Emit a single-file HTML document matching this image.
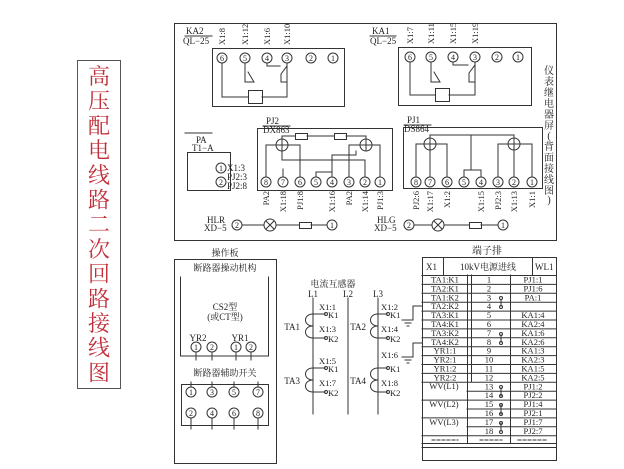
<!DOCTYPE html>
<html><head><meta charset="utf-8"><style>
html,body{margin:0;padding:0;background:#fff;}
svg{display:block;}
text{font-family:"Liberation Serif","Noto Serif CJK SC",serif;fill:#222;}
</style></head><body>
<svg width="624" height="469" viewBox="0 0 624 469" xmlns="http://www.w3.org/2000/svg" stroke-linecap="square">
<rect width="624" height="469" fill="#fff"/>
<!-- title -->
<rect x="77.5" y="60.5" width="43" height="328" fill="none" stroke="#555" stroke-width="1"/>
<g font-size="22" text-anchor="middle">
<text x="99" y="84" style="fill:#c0303a">高</text><text x="99" y="108.7" style="fill:#c0303a">压</text><text x="99" y="133.4" style="fill:#c0303a">配</text><text x="99" y="158.1" style="fill:#c0303a">电</text><text x="99" y="182.8" style="fill:#c0303a">线</text><text x="99" y="207.5" style="fill:#c0303a">路</text><text x="99" y="232.2" style="fill:#c0303a">二</text><text x="99" y="256.9" style="fill:#c0303a">次</text><text x="99" y="281.6" style="fill:#c0303a">回</text><text x="99" y="306.3" style="fill:#c0303a">路</text><text x="99" y="331" style="fill:#c0303a">接</text><text x="99" y="355.7" style="fill:#c0303a">线</text><text x="99" y="380.4" style="fill:#c0303a">图</text>
</g>

<g fill="none" stroke="#333" stroke-width="1">
<rect x="174.5" y="23.5" width="382" height="217"/>
<rect x="212.5" y="48.5" width="132" height="58"/>
<circle cx="222" cy="58" r="5"/><circle cx="245" cy="58" r="5"/><circle cx="267" cy="58" r="5"/><circle cx="287" cy="58" r="5"/><circle cx="311" cy="58" r="5"/><circle cx="333" cy="58" r="5"/>
<path d="M222 63 V97 H248 M262 97 H287 V63 M245 63 V82 H254 L248 72 M267 63 V66 H280 M287 66 L281 74 V82 H287"/>
<rect x="248.5" y="90.5" width="14" height="13"/>
<rect x="398.5" y="47.5" width="133" height="58"/>
<circle cx="410" cy="57" r="5"/><circle cx="431" cy="57" r="5"/><circle cx="453" cy="57" r="5"/><circle cx="475" cy="57" r="5"/><circle cx="497" cy="57" r="5"/><circle cx="518" cy="57" r="5"/>
<path d="M410 62 V95 H435 M449 95 H475 V62 M431 62 V82 H440 L434 72 M453 62 V65 H468 M475 65 L469 73 V82 H475"/>
<rect x="435.5" y="88.5" width="14" height="13"/>
<rect x="257.5" y="128.5" width="135" height="62"/>
<circle cx="266" cy="182" r="5"/><circle cx="283" cy="182" r="5"/><circle cx="300" cy="182" r="5"/><circle cx="316" cy="182" r="5"/><circle cx="332" cy="182" r="5"/><circle cx="349" cy="182" r="5"/><circle cx="365" cy="182" r="5"/><circle cx="380" cy="182" r="5"/>
<circle cx="282" cy="145" r="6"/><circle cx="366" cy="145" r="6"/>
<path d="M276 145 H288 M282 139 V151 M360 145 H372 M366 139 V151"/>
<path d="M266 177 V145 H276 M288 145 H300 V177 M282 139 V136 H295 M307 136 H334 M346 136 H366 V139 M282 151 V160 H365 V177 M372 145 H380 V177 M360 145 H349 V177 M332 177 V155 H356 V151 M316 177 V172 H332 M283 177 V169"/>
<rect x="295.5" y="133.5" width="12" height="6"/><rect x="334.5" y="133.5" width="12" height="6"/>
<rect x="187.5" y="152.5" width="43" height="38"/>
<circle cx="221" cy="168" r="5"/><circle cx="221" cy="182" r="5"/>
<rect x="403.5" y="127.5" width="139" height="61"/>
<circle cx="416" cy="182" r="5"/><circle cx="430" cy="182" r="5"/><circle cx="447" cy="182" r="5"/><circle cx="464" cy="182" r="5"/><circle cx="481" cy="182" r="5"/><circle cx="498" cy="182" r="5"/><circle cx="514" cy="182" r="5"/><circle cx="532" cy="182" r="5"/>
<circle cx="430" cy="144" r="6"/><circle cx="514" cy="144" r="6"/>
<path d="M424 144 H436 M430 138 V150 M508 144 H520 M514 138 V150"/>
<path d="M416 177 V144 H424 M436 144 H447 V177 M430 150 V177 M430 138 V135 H514 V138 M471 135 V170 M464 177 V170 H481 V177 M498 177 V144 H508 M520 144 H532 V177 M514 150 V177"/>
<circle cx="237" cy="225" r="5"/><circle cx="270" cy="225" r="6"/><rect x="299.5" y="222.5" width="12" height="6"/><circle cx="332" cy="225" r="5"/>
<path d="M242 225 H264 M276 225 H299 M311 225 H327 M266 221 L274 229 M274 221 L266 229"/>
<circle cx="409" cy="225" r="5"/><circle cx="438" cy="225" r="6"/><rect x="469.5" y="222.5" width="12" height="6"/><circle cx="503" cy="225" r="5"/>
<path d="M414 225 H432 M444 225 H469 M481 225 H498 M434 221 L442 229 M442 221 L434 229"/>
<path d="M185 36 H212 M185 133 H212 M263 126 H290 M404 125 H431 M370 36 H396"/>

<rect x="174.5" y="259.5" width="102" height="204"/>
<path d="M180.5 277 V356 H268.5 V277"/>
<circle cx="196" cy="347" r="5"/><circle cx="212" cy="347" r="5"/><circle cx="236" cy="347" r="5"/><circle cx="251" cy="347" r="5"/>
<path d="M196 352 V360 M212 352 V360 M236 352 V360 M251 352 V360"/>
<rect x="181.5" y="384.5" width="87" height="41"/>
<circle cx="191" cy="392" r="5"/><circle cx="212" cy="392" r="5"/><circle cx="234" cy="392" r="5"/><circle cx="258" cy="392" r="5"/>
<circle cx="191" cy="413" r="5"/><circle cx="212" cy="413" r="5"/><circle cx="234" cy="413" r="5"/><circle cx="258" cy="413" r="5"/>
<path d="M191 382 V387 M212 382 V387 M234 382 V387 M258 382 V387 M191 418 V429 M212 418 V429 M234 418 V429 M258 418 V429"/>

<path d="M313 298 V414 M348 298 V414 M378 298 V414"/>
<path d="M325 314 H313 C303 314 303 326 313 326 C303 326 303 338 313 338 H325"/>
<path d="M325 368 H313 C303 368 303 380 313 380 C303 380 303 392 313 392 H325"/>
<path d="M387 314 H378 C368 314 368 326 378 326 C368 326 368 338 378 338 H387"/>
<path d="M387 368 H378 C368 368 368 380 378 380 C368 380 368 392 378 392 H387"/>
<circle cx="326" cy="314" r="1.5"/><circle cx="326" cy="338" r="1.5"/><circle cx="326" cy="368" r="1.5"/><circle cx="326" cy="392" r="1.5"/>
<circle cx="388" cy="314" r="1.5"/><circle cx="388" cy="338" r="1.5"/><circle cx="388" cy="368" r="1.5"/><circle cx="388" cy="392" r="1.5"/>
<path d="M422 306 H413 V320 M402 320 H413 M405 323 H411 M407 326 H409"/>
<path d="M422 343 H413 V357 M402 357 H413 M405 360 H411 M407 363 H409"/>

<rect x="422.5" y="257.5" width="134" height="203"/>
<path d="M422 275.5 H556 M443.5 258 V275 M532.5 258 V275"/>
<path d="M467.5 275 V443 M471.5 275 V382 M510.5 275 V443"/>
<path d="M422 284.4 H556 M422 293.3 H556 M422 302.2 H556 M422 311.1 H556 M422 320 H556 M422 328.9 H556 M422 337.8 H556 M422 346.7 H556 M422 355.6 H556 M422 364.5 H556 M422 373.4 H556 M422 382.3 H556 M467 391.2 H556 M422 400.1 H556 M467 409 H556 M422 417.9 H556 M467 426.8 H556 M422 435.7 H556 M422 443.5 H556 M422 447.5 H556"/>
<path d="M501 300 V306 M501 335 V342 M501 388 V396 M501 405 V414 M501 423 V431"/>
<circle cx="501" cy="298" r="1.5"/><circle cx="501" cy="307" r="1.5"/><circle cx="501" cy="334" r="1.5"/><circle cx="501" cy="343" r="1.5"/>
<circle cx="501" cy="387" r="1.5"/><circle cx="501" cy="396" r="1.5"/><circle cx="501" cy="405" r="1.5"/><circle cx="501" cy="414" r="1.5"/><circle cx="501" cy="423" r="1.5"/><circle cx="501" cy="432" r="1.5"/>
<path d="M432 440 H458 M480 440 H502 M518 440 H546" stroke-dasharray="3 2"/>
</g>

<g font-size="9">
<text x="186" y="34">KA2</text><text x="183" y="44">QL−25</text>
<text x="372" y="34">KA1</text><text x="370" y="44">QL−25</text>
<text x="266" y="124">PJ2</text><text x="263" y="133">DX863</text>
<text x="407" y="123">PJ1</text><text x="404" y="132">DS864</text>
<text x="196" y="143">PA</text><text x="192" y="151">T1−A</text>
<text x="227" y="171">X1:3</text><text x="227" y="180">PJ2:3</text><text x="227" y="189">PJ2:8</text>
<text x="207" y="223">HLR</text><text x="204" y="231">XD−5</text>
<text x="377" y="223">HLG</text><text x="374" y="231">XD−5</text>
<g text-anchor="middle" font-size="8">
<text x="237" y="228">2</text><text x="332" y="228">1</text><text x="409" y="228">2</text><text x="503" y="228">1</text>
<text x="222" y="61">6</text><text x="245" y="61">5</text><text x="267" y="61">4</text><text x="287" y="61">3</text><text x="311" y="61">2</text><text x="333" y="61">1</text>
<text x="410" y="60">6</text><text x="431" y="60">5</text><text x="453" y="60">4</text><text x="475" y="60">3</text><text x="497" y="60">2</text><text x="518" y="60">1</text>
<text x="266" y="185">8</text><text x="283" y="185">7</text><text x="300" y="185">6</text><text x="316" y="185">5</text><text x="332" y="185">4</text><text x="349" y="185">3</text><text x="365" y="185">2</text><text x="380" y="185">1</text>
<text x="416" y="185">8</text><text x="430" y="185">7</text><text x="447" y="185">6</text><text x="464" y="185">5</text><text x="481" y="185">4</text><text x="498" y="185">3</text><text x="514" y="185">2</text><text x="532" y="185">1</text>
<text x="221" y="171">1</text><text x="221" y="185">2</text>
<text x="196" y="350">1</text><text x="212" y="350">2</text><text x="236" y="350">1</text><text x="251" y="350">2</text>
<text x="191" y="395">1</text><text x="212" y="395">3</text><text x="234" y="395">5</text><text x="258" y="395">7</text>
<text x="191" y="416">2</text><text x="212" y="416">4</text><text x="234" y="416">6</text><text x="258" y="416">8</text>
</g>
<g font-size="8.5">
<text transform="translate(225,45) rotate(-90)">X1:8</text><text transform="translate(248,45) rotate(-90)">X1:12</text><text transform="translate(270,45) rotate(-90)">X1:6</text><text transform="translate(290,45) rotate(-90)">X1:10</text>
<text transform="translate(413,44) rotate(-90)">X1:7</text><text transform="translate(434,44) rotate(-90)">X1:11</text><text transform="translate(456,44) rotate(-90)">X1:15</text><text transform="translate(478,44) rotate(-90)">X1:19</text>
</g>
<g font-size="8.5" text-anchor="end">
<text transform="translate(269,191) rotate(-90)">PA2</text><text transform="translate(286,191) rotate(-90)">X1:18</text><text transform="translate(303,191) rotate(-90)">PJ1:8</text><text transform="translate(335,191) rotate(-90)">X1:16</text><text transform="translate(352,191) rotate(-90)">PA2</text><text transform="translate(368,191) rotate(-90)">X1:14</text><text transform="translate(383,191) rotate(-90)">PJ1:3</text>
<text transform="translate(419,191) rotate(-90)">PJ2:6</text><text transform="translate(433,191) rotate(-90)">X1:17</text><text transform="translate(450,191) rotate(-90)">X1:2</text><text transform="translate(484,191) rotate(-90)">X1:15</text><text transform="translate(501,191) rotate(-90)">PJ2:3</text><text transform="translate(517,191) rotate(-90)">X1:13</text><text transform="translate(535,191) rotate(-90)">X1:1</text>
</g>
<g font-size="10" text-anchor="middle">
<text x="549" y="74">仪</text><text x="549" y="85">表</text><text x="549" y="96">继</text><text x="549" y="107">电</text><text x="549" y="118">器</text><text x="549" y="129">屏</text><text x="549" y="139">(</text><text x="549" y="150">背</text><text x="549" y="161">面</text><text x="549" y="172">接</text><text x="549" y="183">线</text><text x="549" y="194">图</text><text x="549" y="203">)</text>
</g>
<g text-anchor="middle">
<text x="225" y="256">操作板</text><text x="225" y="271">断路器操动机构</text>
<text x="225" y="310">CS2型</text><text x="225" y="320">(或CT型)</text>
<text x="198" y="341">YR2</text><text x="240" y="341">YR1</text>
<text x="225" y="376">断路器辅助开关</text>
<text x="333" y="287">电流互感器</text>
<text x="313" y="297">L1</text><text x="348" y="297">L2</text><text x="378" y="297">L3</text>
<text x="487" y="254" font-size="10">端子排</text>
</g>
<text x="300" y="330" text-anchor="end">TA1</text><text x="300" y="384" text-anchor="end">TA3</text>
<text x="366" y="330" text-anchor="end">TA2</text><text x="366" y="384" text-anchor="end">TA4</text>
<g font-size="8.5">
<text x="319" y="310">X1:1</text><text x="328" y="318">K1</text><text x="319" y="332">X1:3</text><text x="328" y="342">K2</text>
<text x="319" y="364">X1:5</text><text x="328" y="372">K1</text><text x="319" y="386">X1:7</text><text x="328" y="396">K2</text>
<text x="381" y="310">X1:2</text><text x="390" y="318">K1</text><text x="381" y="332">X1:4</text><text x="390" y="342">K2</text>
<text x="381" y="358">X1:6</text><text x="390" y="372">K1</text><text x="381" y="386">X1:8</text><text x="390" y="396">K2</text>
</g>
<text x="426" y="270">X1</text><text x="488" y="270" text-anchor="middle">10kV电源进线</text><text x="535" y="270">WL1</text>
<g font-size="8.5" text-anchor="middle">
<text x="445" y="282.5">TA1:K1</text><text x="445" y="291.4">TA2:K1</text><text x="445" y="300.3">TA1:K2</text><text x="445" y="309.2">TA2:K2</text><text x="445" y="318.1">TA3:K1</text><text x="445" y="327">TA4:K1</text><text x="445" y="335.9">TA3:K2</text><text x="445" y="344.8">TA4:K2</text><text x="445" y="353.7">YR1:1</text><text x="445" y="362.6">YR2:1</text><text x="445" y="371.5">YR1:2</text><text x="445" y="380.4">YR2:2</text>
<text x="444" y="389">WV(L1)</text><text x="444" y="407">WV(L2)</text><text x="444" y="425">WV(L3)</text>
<text x="489" y="282.5">1</text><text x="489" y="291.4">2</text><text x="489" y="300.3">3</text><text x="489" y="309.2">4</text><text x="489" y="318.1">5</text><text x="489" y="327">6</text><text x="489" y="335.9">7</text><text x="489" y="344.8">8</text><text x="489" y="353.7">9</text><text x="489" y="362.6">10</text><text x="489" y="371.5">11</text><text x="489" y="380.4">12</text><text x="489" y="389.3">13</text><text x="489" y="398.2">14</text><text x="489" y="407.1">15</text><text x="489" y="416">16</text><text x="489" y="424.9">17</text><text x="489" y="433.8">18</text>
<text x="533" y="282.5">PJ1:1</text><text x="533" y="291.4">PJ1:6</text><text x="533" y="300.3">PA:1</text><text x="533" y="318.1">KA1:4</text><text x="533" y="327">KA2:4</text><text x="533" y="335.9">KA1:6</text><text x="533" y="344.8">KA2:6</text><text x="533" y="353.7">KA1:3</text><text x="533" y="362.6">KA2:3</text><text x="533" y="371.5">KA1:5</text><text x="533" y="380.4">KA2:5</text><text x="533" y="389.3">PJ1:2</text><text x="533" y="398.2">PJ2:2</text><text x="533" y="407.1">PJ1:4</text><text x="533" y="416">PJ2:1</text><text x="533" y="424.9">PJ1:7</text><text x="533" y="433.8">PJ2:7</text>
</g>
</g>
</svg>
</body></html>
